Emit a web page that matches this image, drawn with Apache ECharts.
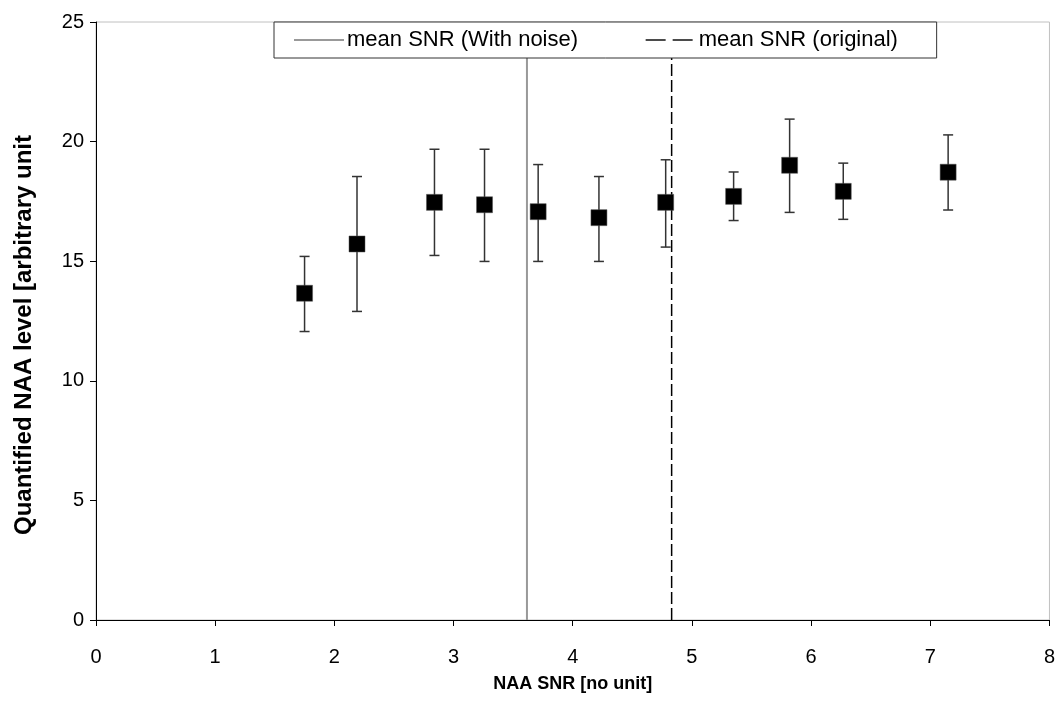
<!DOCTYPE html>
<html>
<head>
<meta charset="utf-8">
<script src="https://cdn.jsdelivr.net/npm/echarts@6/dist/echarts.min.js"></script>
<style>html,body{margin:0;padding:0;background:#fff}#c{width:1058px;height:715px}</style>
</head>
<body>
<div id="c"></div>
<script>
// Data
const snr      = [1.75, 2.19, 2.84, 3.26, 3.71, 4.22, 4.78, 5.35, 5.82, 6.27, 7.15];
const naaLevel = [13.66, 15.72, 17.46, 17.36, 17.07, 16.82, 17.46, 17.71, 19.01, 17.92, 18.72];
const errHigh  = [15.2, 18.54, 19.68, 19.68, 19.04, 18.54, 19.24, 18.73, 20.94, 19.10, 20.28];
const errLow   = [12.06, 12.9, 15.24, 14.99, 14.99, 14.99, 15.59, 16.70, 17.04, 16.75, 17.14];
const meanSnrNoise = 3.616;
const meanSnrOrig  = 4.83;
const xTicks = [0, 1, 2, 3, 4, 5, 6, 7, 8];
const yTicks = [0, 5, 10, 15, 20, 25];
const legendNames = ['mean SNR (With noise)', 'mean SNR (original)'];

const font = "'Liberation Sans', Arial, sans-serif";
const chart = echarts.init(document.getElementById('c'), null, {renderer: 'canvas'});

const pointData = snr.map((x, i) => [x, naaLevel[i]]);
const errData = snr.map((x, i) => [x, errLow[i], errHigh[i]]);

chart.setOption({
  animation: false,
  backgroundColor: '#fff',
  grid: {left: 96, right: 8, top: 22, bottom: 95, show: true, borderColor: '#c0c0c0', borderWidth: 1, backgroundColor: 'transparent'},
  legend: {
    data: [
      {name: legendNames[0], textStyle: {width: 261}},
      {name: legendNames[1], textStyle: {width: 222}, lineStyle: {type: [20, 7], width: 1.3, color: '#111'}}
    ],
    left: 274, top: 22,
    padding: [7, 16, 7, 19],
    itemGap: 37, itemWidth: 50, itemHeight: 14,
    itemStyle: {opacity: 0},
    backgroundColor: '#fff', borderColor: '#333', borderWidth: 1, borderRadius: 0,
    textStyle: {fontFamily: font, fontSize: 22, color: '#000', lineHeight: 22, padding: [0, 0, 0, -2]},
    z: 20
  },
  xAxis: {
    type: 'value', min: xTicks[0], max: xTicks[xTicks.length - 1], interval: 1,
    name: 'NAA SNR [no unit]', nameLocation: 'middle', nameGap: 55,
    nameTextStyle: {fontFamily: font, fontSize: 18, fontWeight: 'bold', color: '#000'},
    axisLine: {show: true, lineStyle: {color: '#000', width: 1}},
    axisTick: {show: true, inside: false, length: 6, lineStyle: {color: '#000'}},
    axisLabel: {fontFamily: font, fontSize: 20, color: '#000', margin: 27},
    splitLine: {show: false}
  },
  yAxis: {
    type: 'value', min: yTicks[0], max: yTicks[yTicks.length - 1], interval: 5,
    name: 'Quantified NAA level [arbitrary unit', nameLocation: 'middle', nameGap: 60, nameRotate: 90,
    nameTextStyle: {fontFamily: font, fontSize: 24, fontWeight: 'bold', color: '#000', padding: [0, 28, 0, 0]},
    axisLine: {show: true, lineStyle: {color: '#000', width: 1}},
    axisTick: {show: true, inside: false, length: 6, lineStyle: {color: '#000'}},
    axisLabel: {fontFamily: font, fontSize: 20, color: '#000', margin: 12},
    splitLine: {show: false}
  },
  series: [
    {
      name: legendNames[0], type: 'line', symbol: 'none', silent: true,
      data: [[meanSnrNoise, yTicks[0]], [meanSnrNoise, yTicks[yTicks.length - 1]]],
      lineStyle: {color: '#999', width: 2, type: 'solid'}, itemStyle: {color: '#999'}, z: 1
    },
    {
      name: legendNames[1], type: 'line', symbol: 'none', silent: true,
      data: [[meanSnrOrig, yTicks[0]], [meanSnrOrig, yTicks[yTicks.length - 1]]],
      lineStyle: {color: '#000', width: 1.5, type: [12, 4]}, itemStyle: {color: '#000'}, z: 1
    },
    {
      type: 'custom', silent: true, z: 3,
      data: errData,
      renderItem: function (params, api) {
        const x = api.value(0);
        const lo = api.coord([x, api.value(1)]);
        const hi = api.coord([x, api.value(2)]);
        const cap = 5;
        const style = {stroke: '#333', lineWidth: 1.5};
        return {
          type: 'group',
          children: [
            {type: 'line', shape: {x1: lo[0], y1: lo[1], x2: hi[0], y2: hi[1]}, style: style},
            {type: 'line', shape: {x1: lo[0] - cap, y1: lo[1], x2: lo[0] + cap, y2: lo[1]}, style: style},
            {type: 'line', shape: {x1: hi[0] - cap, y1: hi[1], x2: hi[0] + cap, y2: hi[1]}, style: style}
          ]
        };
      }
    },
    {
      type: 'scatter', silent: true, z: 4,
      data: pointData,
      symbol: 'rect', symbolSize: 16,
      itemStyle: {color: '#000', borderColor: '#555', borderWidth: 0.5, opacity: 1}
    }
  ]
});
</script>
</body>
</html>
